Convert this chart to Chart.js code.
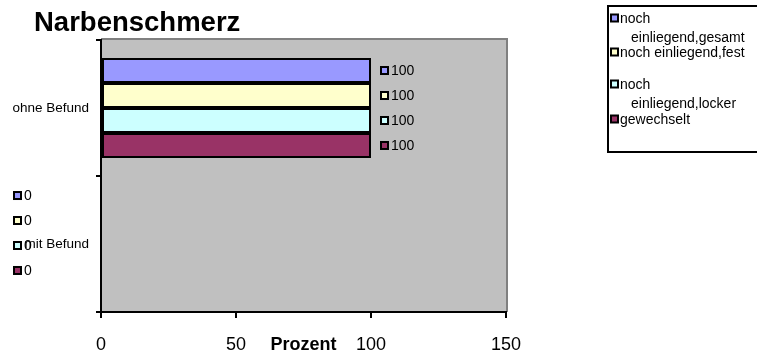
<!DOCTYPE html>
<html>
<head>
<meta charset="utf-8">
<title>Narbenschmerz</title>
<script src="https://cdn.jsdelivr.net/npm/chart.js@4.4.1/dist/chart.umd.min.js"></script>
<style>
  html, body { margin: 0; padding: 0; background: #fff; }
  #wrap { width: 757px; height: 359px; position: relative; }
</style>
</head>
<body>
<div id="wrap"><canvas id="bar-chart" width="757" height="359"></canvas></div>
<script>
/*------------------
     Data
--------------------*/
var categories = ["ohne Befund", "mit Befund"];
var seriesNames = ["noch einliegend,gesamt", "noch einliegend,fest", "noch einliegend,locker", "gewechselt"];
var gesamt = [100, 0];
var fest = [100, 0];
var locker = [100, 0];
var gewechselt = [100, 0];
var xTicks = [0, 50, 100, 150];

var colors = ["#9999FF", "#FFFFCC", "#CCFFFF", "#993366"];
var FONT = "'Liberation Sans', Arial, sans-serif";

// little legend-key square used by the value labels and the legend
function keySquare(ctx, x, y, color) {
    ctx.fillStyle = "#000";
    ctx.fillRect(x, y - 4.5, 9, 9);
    ctx.fillStyle = color;
    ctx.fillRect(x + 2, y - 2.5, 5, 5);
}

/*------------------
     Plot background, title, value labels, legend
--------------------*/
var decorPlugin = {
    id: "decor",
    beforeDraw: function (chart) {
        var ctx = chart.ctx;
        var a = chart.chartArea;
        ctx.save();
        ctx.fillStyle = "#C0C0C0";
        ctx.fillRect(a.left, a.top, a.right - a.left, a.bottom - a.top);
        ctx.strokeStyle = "#808080";
        ctx.lineWidth = 2;
        ctx.beginPath();
        ctx.moveTo(a.left, a.top - 1);
        ctx.lineTo(a.right + 1, a.top - 1);
        ctx.lineTo(a.right + 1, a.bottom);
        ctx.stroke();
        ctx.restore();
    },
    afterDatasetsDraw: function (chart) {
        var ctx = chart.ctx;
        ctx.save();
        ctx.textBaseline = "middle";
        ctx.textAlign = "left";
        ctx.font = "14px " + FONT;
        chart.data.datasets.forEach(function (ds, i) {
            var meta = chart.getDatasetMeta(i);
            meta.data.forEach(function (bar, j) {
                var v = ds.data[j];
                var x, y;
                if (v > 0) {
                    x = bar.x + 9;
                    y = bar.y;
                } else {
                    // zero values get pushed out left of the axis
                    x = 13;
                    y = bar.y - 11;
                }
                keySquare(ctx, x, y, ds.backgroundColor);
                ctx.fillStyle = "#000";
                ctx.fillText(String(v), x + 11, y + 1);
            });
        });

        // title
        ctx.font = "bold 27.5px " + FONT;
        ctx.fillText("Narbenschmerz", 34, 23);

        // x axis title sits on the tick row
        var a = chart.chartArea;
        ctx.textAlign = "center";
        ctx.font = "bold 18px " + FONT;
        ctx.fillText("Prozent", (a.left + a.right) / 2, 345);

        // legend box
        ctx.strokeStyle = "#000";
        ctx.lineWidth = 2;
        ctx.strokeRect(608, 6, 160, 146);
        ctx.textAlign = "left";
        ctx.font = "14px " + FONT;
        var entryY = [18, 52, 84, 119];
        var lines = [["noch", "einliegend,gesamt"], ["noch einliegend,fest"], ["noch", "einliegend,locker"], ["gewechselt"]];
        lines.forEach(function (ls, i) {
            var y = entryY[i];
            keySquare(ctx, 610, y, colors[i]);
            ctx.fillStyle = "#000";
            ls.forEach(function (t, k) {
                ctx.fillText(t, k === 0 ? 620 : 631, y + 1 + k * 19.5);
            });
        });
        ctx.restore();
    }
};

var datasets = [gesamt, fest, locker, gewechselt].map(function (vals, i) {
    return {
        label: seriesNames[i],
        data: vals,
        backgroundColor: colors[i],
        borderColor: "#000",
        borderWidth: 2,
        borderSkipped: false,
        barPercentage: 1.0,
        categoryPercentage: 0.735
    };
});

var barChart = new Chart(document.getElementById("bar-chart").getContext("2d"), {
    type: "bar",
    data: { labels: categories, datasets: datasets },
    options: {
        indexAxis: "y",
        responsive: false,
        animation: false,
        layout: { padding: { top: 40, right: 251, left: 0, bottom: 0 } },
        plugins: {
            legend: { display: false },
            tooltip: { enabled: false }
        },
        scales: {
            x: {
                min: 0,
                max: 150,
                afterBuildTicks: function (scale) {
                    scale.ticks = xTicks.map(function (v) { return { value: v }; });
                },
                afterFit: function (scale) { scale.height = 47; },
                ticks: {
                    color: "#000",
                    font: { family: FONT, size: 18 },
                    padding: 16,
                    maxRotation: 0,
                    autoSkip: false
                },
                grid: {
                    drawOnChartArea: false,
                    drawTicks: true,
                    tickLength: 6,
                    color: "#000",
                    lineWidth: 2
                },
                border: { color: "#000", width: 2 }
            },
            y: {
                afterFit: function (scale) { scale.width = 101; },
                ticks: {
                    color: "#000",
                    font: { family: FONT, size: 13.5 },
                    padding: 7
                },
                grid: {
                    drawOnChartArea: false,
                    drawTicks: true,
                    tickLength: 5,
                    offset: true,
                    color: "#000",
                    lineWidth: 2
                },
                border: { color: "#000", width: 2 }
            }
        }
    },
    plugins: [decorPlugin]
});
</script>
</body>
</html>
